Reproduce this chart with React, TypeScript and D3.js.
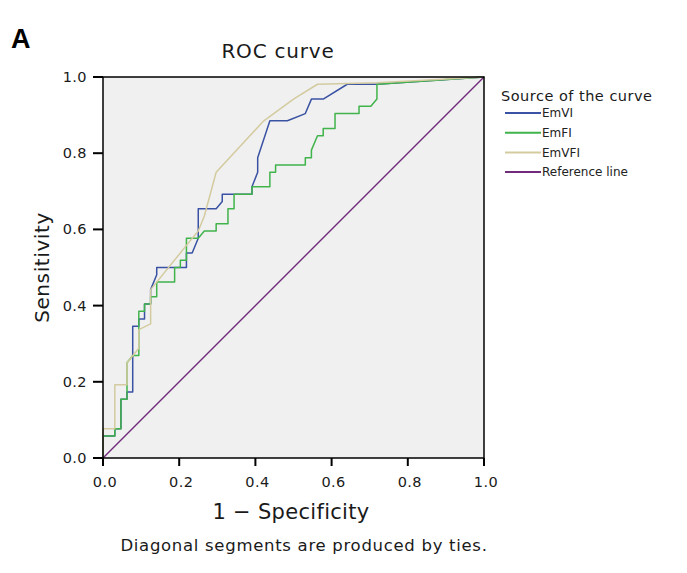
import React from "react";
import * as d3 from "d3";

// ROC curves: [1 - specificity, sensitivity]
const emVI: [number, number][] = [
  [0, 0], [0, 0.058], [0.031, 0.058], [0.031, 0.077], [0.047, 0.077], [0.047, 0.154],
  [0.063, 0.154], [0.063, 0.173], [0.078, 0.173], [0.078, 0.346], [0.094, 0.346],
  [0.094, 0.365], [0.109, 0.365], [0.109, 0.404], [0.125, 0.404], [0.125, 0.442],
  [0.141, 0.481], [0.141, 0.5], [0.219, 0.5], [0.219, 0.538], [0.234, 0.538],
  [0.25, 0.577], [0.25, 0.654], [0.297, 0.654], [0.313, 0.673], [0.313, 0.692],
  [0.391, 0.692], [0.391, 0.712], [0.406, 0.75], [0.406, 0.788], [0.438, 0.885],
  [0.484, 0.885], [0.531, 0.904], [0.547, 0.942], [0.578, 0.942], [0.641, 0.981],
  [0.719, 0.981], [1, 1],
];

const emFI: [number, number][] = [
  [0, 0], [0, 0.058], [0.031, 0.058], [0.031, 0.077], [0.047, 0.077], [0.047, 0.154],
  [0.063, 0.154], [0.063, 0.25], [0.078, 0.269], [0.094, 0.269], [0.094, 0.385],
  [0.109, 0.385], [0.109, 0.404], [0.125, 0.404], [0.125, 0.423], [0.141, 0.423],
  [0.141, 0.462], [0.188, 0.462], [0.188, 0.5], [0.203, 0.5], [0.203, 0.519],
  [0.219, 0.519], [0.219, 0.577], [0.25, 0.577], [0.266, 0.596], [0.297, 0.596],
  [0.297, 0.615], [0.328, 0.615], [0.328, 0.654], [0.344, 0.654], [0.344, 0.692],
  [0.391, 0.692], [0.391, 0.712], [0.438, 0.712], [0.438, 0.75], [0.453, 0.75],
  [0.453, 0.769], [0.531, 0.769], [0.531, 0.788], [0.547, 0.788], [0.547, 0.808],
  [0.563, 0.846], [0.578, 0.846], [0.578, 0.865], [0.609, 0.865], [0.609, 0.904],
  [0.672, 0.904], [0.672, 0.923], [0.703, 0.923], [0.719, 0.942], [0.719, 0.981],
  [1, 1],
];

const emVFI: [number, number][] = [
  [0, 0], [0, 0.077], [0.031, 0.077], [0.031, 0.192], [0.063, 0.192], [0.063, 0.25],
  [0.094, 0.288], [0.094, 0.337], [0.125, 0.352], [0.125, 0.442], [0.219, 0.558],
  [0.25, 0.596], [0.266, 0.635], [0.297, 0.75], [0.422, 0.885], [0.5, 0.942],
  [0.563, 0.981], [0.719, 0.985], [1, 1],
];

const referenceLine: [number, number][] = [[0, 0], [1, 1]];

const seriesNames = ["EmVI", "EmFI", "EmVFI", "Reference line"];
const seriesColors = ["#3a52a3", "#40b34b", "#d3cb9f", "#722c7c"];
const tickValues = [0, 0.2, 0.4, 0.6, 0.8, 1.0];

const W = 687;
const H = 573;
const left = 103, right = 484, top = 77, bottom = 458;
const FONT = "'DejaVu Sans', 'Noto Sans', sans-serif";
const TXT = "#1a1a1a";

export default function App() {
  const x = d3.scaleLinear().domain([0, 1]).range([left, right]);
  const y = d3.scaleLinear().domain([0, 1]).range([bottom, top]);
  const line = d3.line<[number, number]>().x((d) => x(d[0])).y((d) => y(d[1]));
  const data = [emVI, emFI, emVFI, referenceLine];
  const drawOrder = [0, 1, 2, 3];

  return (
    <svg
      width={W}
      height={H}
      viewBox={`0 0 ${W} ${H}`}
      style={{ position: "absolute", left: 0, top: 0, background: "#fff" }}
    >
      <rect x={0} y={0} width={W} height={H} fill="#fff" />
      <text x={11} y={48} fontFamily="'Liberation Sans', Arial, sans-serif" fontWeight="bold" fontSize={27} fill="#000">
        A
      </text>
      <text x={278} y={58} textAnchor="middle" fontFamily={FONT} fontSize={20} letterSpacing={0.8} fill={TXT}>
        ROC curve
      </text>

      <rect x={left} y={top} width={right - left} height={bottom - top} fill="#f0f0f0" />

      {drawOrder.map((i) => (
        <path
          key={seriesNames[i]}
          d={line(data[i]) || ""}
          fill="none"
          stroke={seriesColors[i]}
          strokeWidth={i === 3 ? 1.4 : 1.5}
          strokeLinejoin="round"
        />
      ))}

      <rect x={left} y={top} width={right - left} height={bottom - top} fill="none" stroke="#000" strokeWidth={1.5} />

      {tickValues.map((t) => (
        <g key={"y" + t}>
          <line x1={left - 10} x2={left} y1={y(t)} y2={y(t)} stroke="#000" strokeWidth={2} />
          <text x={87} y={y(t) + 5} textAnchor="end" fontFamily={FONT} fontSize={14.5} letterSpacing={0.4} fill={TXT}>
            {t.toFixed(1)}
          </text>
        </g>
      ))}
      {tickValues.map((t) => (
        <g key={"x" + t}>
          <line x1={x(t)} x2={x(t)} y1={bottom} y2={bottom + 8} stroke="#000" strokeWidth={2} />
          <text x={x(t) + 2} y={487} textAnchor="middle" fontFamily={FONT} fontSize={14.5} letterSpacing={0.4} fill={TXT}>
            {t.toFixed(1)}
          </text>
        </g>
      ))}

      <text x={291} y={519} textAnchor="middle" fontFamily={FONT} fontSize={21} letterSpacing={0.3} fill={TXT}>
        1 − Specificity
      </text>
      <text
        transform={`translate(49, ${(top + bottom) / 2}) rotate(-90)`}
        textAnchor="middle"
        fontFamily={FONT}
        fontSize={20}
        letterSpacing={0.6}
        fill={TXT}
      >
        Sensitivity
      </text>
      <text x={304} y={551} textAnchor="middle" fontFamily={FONT} fontSize={16.5} letterSpacing={0.7} fill={TXT}>
        Diagonal segments are produced by ties.
      </text>

      <text x={501} y={101} fontFamily={FONT} fontSize={14.5} letterSpacing={0.5} fill={TXT}>
        Source of the curve
      </text>
      {seriesNames.map((name, i) => {
        const ly = 113 + i * 19.7;
        return (
          <g key={"leg" + name}>
            <line x1={505} x2={541} y1={ly} y2={ly} stroke={seriesColors[i]} strokeWidth={2} />
            <text x={542} y={ly + 4.3} fontFamily={FONT} fontSize={12} fill="#222">
              {name}
            </text>
          </g>
        );
      })}
    </svg>
  );
}
